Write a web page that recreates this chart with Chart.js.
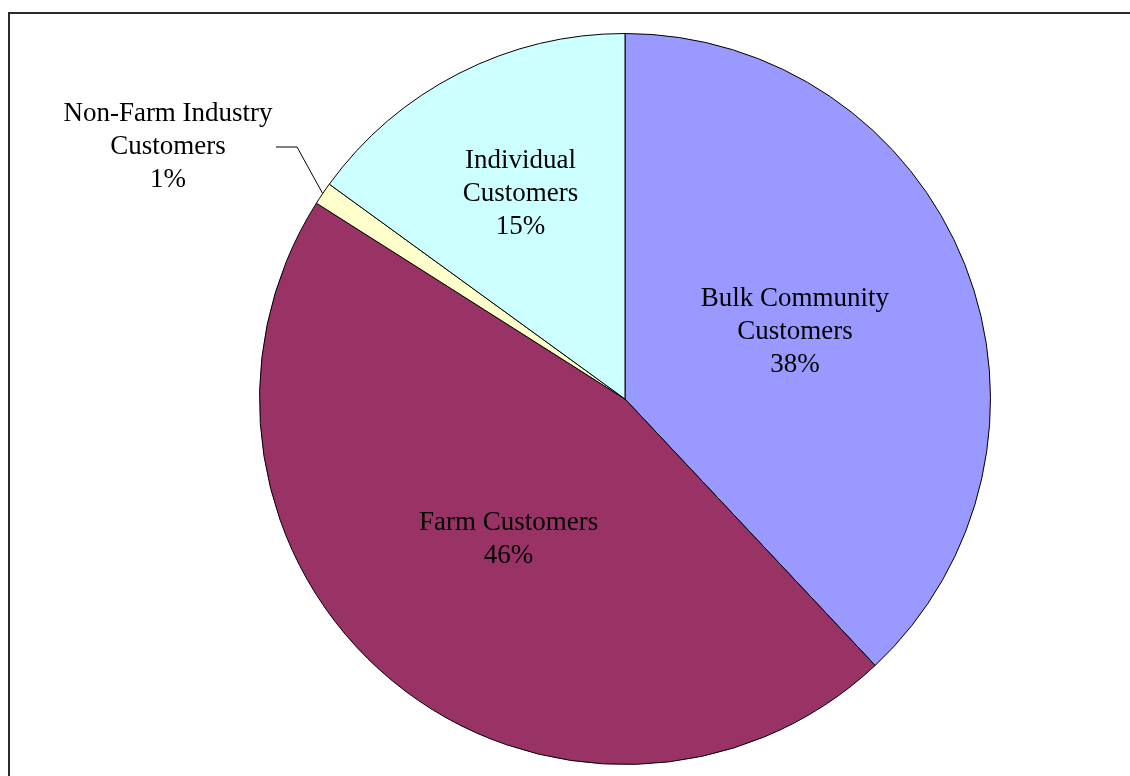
<!DOCTYPE html>
<html>
<head>
<meta charset="utf-8">
<script src="https://cdn.jsdelivr.net/npm/chart.js@4"></script>
<style>
    html, body { margin: 0; padding: 0; background: #fff; overflow: hidden; }
    #wrap { position: relative; width: 1130px; height: 776px; }
    #frame {
        position: absolute; left: 8px; top: 12px; width: 1300px; height: 900px;
        border-left: 2px solid #2b2b2b; border-top: 2px solid #2b2b2b;
    }
    #pieCanvas { position: absolute; left: 0; top: 0; }
</style>
</head>
<body>
<div id="wrap">
    <div id="frame"></div>
    <canvas id="pieCanvas" width="1130" height="776"></canvas>
</div>
<script>
const categories = [
    ["Bulk Community", "Customers"],
    ["Farm Customers"],
    ["Non-Farm Industry", "Customers"],
    ["Individual", "Customers"]
];
const shares = [38, 46, 1, 15];
const sliceColors = ["#9999FF", "#993366", "#FFFFCC", "#CCFFFF"];

document.addEventListener("DOMContentLoaded", function () {
    const canvas = document.getElementById("pieCanvas");

    // where each label sits: fraction of radius along the slice's mid-angle,
    // or an outside spot with a leader line
    const labelSpots = [
        { r: 0.5 },
        { r: 0.5 },
        { outside: { x: 168, y: 147 }, elbow: { x: 297, y: 147 }, tail: { x: 276, y: 147 } },
        { r: 0.63 }
    ];

    const sliceLabels = {
        id: "sliceLabels",
        afterDatasetsDraw(chart) {
            const ctx = chart.ctx;
            const arcs = chart.getDatasetMeta(0).data;
            const fontSize = 27;
            const lineH = 33;
            ctx.save();
            ctx.font = fontSize + "px 'Liberation Serif', 'Times New Roman', serif";
            ctx.fillStyle = "#000";
            ctx.textAlign = "center";
            ctx.textBaseline = "middle";
            arcs.forEach((arc, i) => {
                const p = arc.getProps(["x", "y", "startAngle", "endAngle", "outerRadius"], true);
                const mid = (p.startAngle + p.endAngle) / 2;
                const lines = categories[i].concat([shares[i] + "%"]);
                const spot = labelSpots[i];
                let cx, cy;
                if (spot.outside) {
                    cx = spot.outside.x;
                    cy = spot.outside.y;
                    const ex = p.x + Math.cos(mid) * p.outerRadius;
                    const ey = p.y + Math.sin(mid) * p.outerRadius;
                    ctx.beginPath();
                    ctx.strokeStyle = "#000";
                    ctx.lineWidth = 1;
                    ctx.moveTo(spot.tail.x, spot.tail.y);
                    ctx.lineTo(spot.elbow.x, spot.elbow.y);
                    ctx.lineTo(ex, ey);
                    ctx.stroke();
                } else {
                    cx = p.x + Math.cos(mid) * p.outerRadius * spot.r;
                    cy = p.y + Math.sin(mid) * p.outerRadius * spot.r;
                }
                const top = cy - (lines.length - 1) * lineH / 2;
                lines.forEach((t, k) => ctx.fillText(t, cx, top + k * lineH));
            });
            ctx.restore();
        }
    };

    new Chart(canvas, {
        type: "pie",
        data: {
            labels: categories.map(c => c.join(" ")),
            datasets: [{
                data: shares,
                backgroundColor: sliceColors,
                borderColor: "#000",
                borderWidth: 1
            }]
        },
        options: {
            responsive: false,
            animation: false,
            layout: { padding: { top: 33, bottom: 11, left: 259, right: 139 } },
            plugins: {
                legend: { display: false },
                tooltip: { enabled: false }
            }
        },
        plugins: [sliceLabels]
    });
});
</script>
</body>
</html>
